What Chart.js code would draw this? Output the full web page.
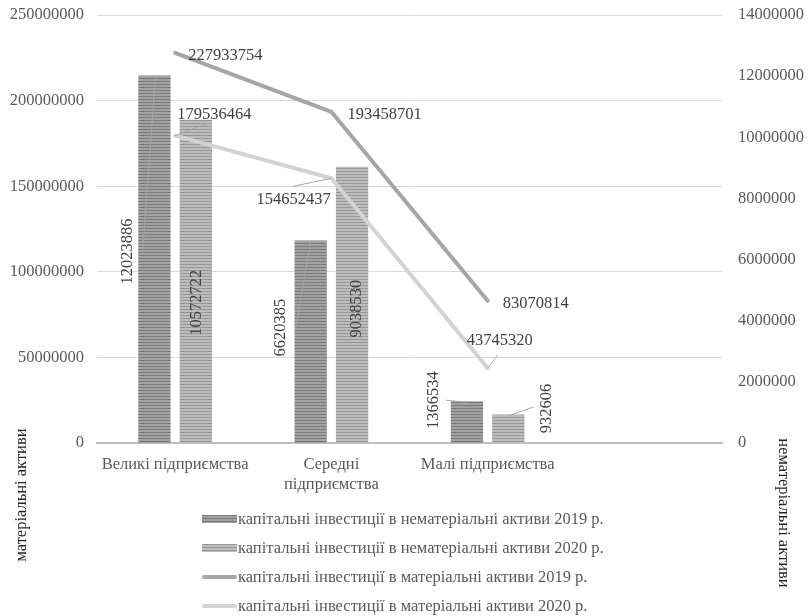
<!DOCTYPE html>
<html><head><meta charset="utf-8">
<script src="https://cdn.jsdelivr.net/npm/chart.js@4.4.1/dist/chart.umd.min.js"></script>
<style>
html,body{margin:0;padding:0;background:#fff;}
#wrap{position:relative;width:809px;height:616px;}
#legend{position:absolute;left:202px;top:504px;font-family:"Liberation Serif",serif;font-size:16.5px;color:#595959;}
.row{height:29px;display:flex;align-items:center;white-space:nowrap;}
.sw{width:35px;margin-right:1px;}
</style></head><body>
<div id="wrap"><canvas id="c"></canvas><div id="legend"></div></div>
<script>
// ---- data ----
const categories = ["Великі підприємства", ["Середні", "підприємства"], "Малі підприємства", ""];
const intangible2019 = [12023886, 6620385, 1366534];
const intangible2020 = [10572722, 9038530, 932606];
const tangible2019 = [227933754, 193458701, 83070814];
const tangible2020 = [179536464, 154652437, 43745320];
const seriesNames = [
  "капітальні інвестиції в нематеріальні активи 2019 р.",
  "капітальні інвестиції в нематеріальні активи 2020 р.",
  "капітальні інвестиції в матеріальні активи 2019 р.",
  "капітальні інвестиції в матеріальні активи 2020 р."
];
const leftAxisTitle = "матеріальні активи";
const rightAxisTitle = "нематеріальні активи";
const leftScale = {min: 0, max: 250000000, step: 50000000};
const rightScale = {min: 0, max: 14000000, step: 2000000};

// ---- styles ----
const FONT = '"Liberation Serif", "Times New Roman", serif';
const FS = 16.5;
function stripePattern(dark, light) {
  const c = document.createElement('canvas');
  c.width = 4; c.height = 3;
  const g = c.getContext('2d');
  g.fillStyle = light; g.fillRect(0, 0, 4, 3);
  g.fillStyle = dark; g.fillRect(0, 0, 4, 1);
  return g.createPattern(c, 'repeat');
}
const bar19 = stripePattern('#7a7a7a', '#a2a2a2');
const bar20 = stripePattern('#979797', '#bdbdbd');
const line19 = '#a6a6a6';
const line20 = '#d3d3d3';

// label placement relative to each drawn element: [dx, dy, rotated, leader(rel) or null]
const labelStyle = [
  [[-27, 176, true, [-12, 179, 1, 1]], [-30, 87, true, [-15, 87, 0, 1]], [-33, -1, true, [-21, -1, 0, 1]]],
  [[1, 183, true, null], [5, 142, true, null], [38, -6, true, [0, 1.5, 25, -7.5]]],
  [[13, 3, false, null], [16, 3, false, null], [15, 3, false, null]],
  [[2, -21, false, [0, 0, 35, -13]], [-75, 21, false, [-38, 8, 0, 0]], [-21, -27, false, [0, 0, 10, -13]]]
];

const labelPlugin = {
  id: 'vlabels',
  afterDatasetsDraw(chart) {
    const ctx = chart.ctx;
    ctx.save();
    chart.data.datasets.forEach((ds, i) => {
      const meta = chart.getDatasetMeta(i);
      meta.data.forEach((el, j) => {
        const st = labelStyle[i][j];
        if (!st) return;
        const [dx, dy, rot, lead] = st;
        if (lead) {
          ctx.strokeStyle = '#a6a6a6';
          ctx.lineWidth = 1;
          ctx.beginPath();
          ctx.moveTo(el.x + lead[0], el.y + lead[1]);
          ctx.lineTo(el.x + lead[2], el.y + lead[3]);
          ctx.stroke();
        }
        ctx.fillStyle = '#404040';
        ctx.font = FS + 'px ' + FONT;
        const txt = String(ds.data[j]);
        if (rot) {
          ctx.save();
          ctx.translate(el.x + dx, el.y + dy);
          ctx.rotate(-Math.PI / 2);
          ctx.textAlign = 'center';
          ctx.textBaseline = 'middle';
          ctx.fillText(txt, 0, 0);
          ctx.restore();
        } else {
          ctx.textAlign = 'left';
          ctx.textBaseline = 'middle';
          ctx.fillText(txt, el.x + dx, el.y + dy);
        }
      });
    });
    ctx.restore();
  },
  afterDraw(chart) {
    const ctx = chart.ctx;
    const area = chart.chartArea;
    ctx.save();
    ctx.fillStyle = '#262626';
    ctx.font = FS + 'px ' + FONT;
    ctx.textAlign = 'center';
    ctx.textBaseline = 'middle';
    ctx.translate(22, area.bottom + 52);
    ctx.rotate(-Math.PI / 2);
    ctx.fillText(leftAxisTitle, 0, 0);
    ctx.restore();
    ctx.save();
    ctx.fillStyle = '#262626';
    ctx.font = FS + 'px ' + FONT;
    ctx.textAlign = 'center';
    ctx.textBaseline = 'middle';
    ctx.translate(783, area.bottom + 70);
    ctx.rotate(Math.PI / 2);
    ctx.fillText(rightAxisTitle, 0, 0);
    ctx.restore();
  }
};

const tickFont = {family: FONT, size: FS};
const chart = new Chart(document.getElementById('c'), {
  type: 'bar',
  data: {
    labels: categories,
    datasets: [
      {type: 'bar', label: seriesNames[0], data: intangible2019, yAxisID: 'y1', backgroundColor: bar19, borderWidth: 0, order: 2, categoryPercentage: 0.53, barPercentage: 0.78},
      {type: 'bar', label: seriesNames[1], data: intangible2020, yAxisID: 'y1', backgroundColor: bar20, borderWidth: 0, order: 2, categoryPercentage: 0.53, barPercentage: 0.78},
      {type: 'line', label: seriesNames[2], data: tangible2019, yAxisID: 'y', borderColor: line19, borderWidth: 4, pointRadius: 0, tension: 0, order: 1, borderCapStyle: 'round', borderJoinStyle: 'round'},
      {type: 'line', label: seriesNames[3], data: tangible2020, yAxisID: 'y', borderColor: line20, borderWidth: 4, pointRadius: 0, tension: 0, order: 0, borderCapStyle: 'round', borderJoinStyle: 'round'}
    ]
  },
  options: {
    responsive: true,
    maintainAspectRatio: false,
    animation: false,
    layout: {padding: {top: 15, left: 0, right: 0, bottom: 0}},
    plugins: {legend: {display: false}, tooltip: {enabled: false}},
    scales: {
      x: {
        offset: true,
        grid: {display: false, drawTicks: false},
        border: {display: true, color: '#bfbfbf', width: 2},
        ticks: {font: tickFont, color: '#595959', padding: 12, autoSkip: false, maxRotation: 0, minRotation: 0},
        afterFit(s) { s.height = 173; s.paddingLeft = 0; s.paddingRight = 0; }
      },
      y: {
        position: 'left',
        min: leftScale.min, max: leftScale.max,
        grid: {color: '#d9d9d9', lineWidth: 1, drawTicks: false},
        border: {display: false},
        ticks: {stepSize: leftScale.step, font: tickFont, color: '#595959', padding: 13, callback: v => String(v)},
        afterFit(s) { s.width = 97; s.paddingTop = 0; s.paddingBottom = 0; }
      },
      y1: {
        position: 'right',
        min: rightScale.min, max: rightScale.max,
        grid: {display: false, drawTicks: false},
        border: {display: false},
        ticks: {stepSize: rightScale.step, font: tickFont, color: '#595959', padding: 16, callback: v => String(v)},
        afterFit(s) { s.width = 87; s.paddingTop = 0; s.paddingBottom = 0; }
      }
    }
  },
  plugins: [labelPlugin]
});

// ---- legend (HTML) ----
const legendEl = document.getElementById('legend');
const swatches = [
  'height:8px;background:repeating-linear-gradient(#7a7a7a 0 1px,#a2a2a2 1px 3px);',
  'height:8px;background:repeating-linear-gradient(#979797 0 1px,#bdbdbd 1px 3px);',
  'height:4px;border-radius:2px;background:' + line19 + ';',
  'height:4px;border-radius:2px;background:' + line20 + ';'
];
seriesNames.forEach((n, i) => {
  const r = document.createElement('div');
  r.className = 'row';
  r.innerHTML = '<div class="sw" style="' + swatches[i] + '"></div><span>' + n + '</span>';
  legendEl.appendChild(r);
});
</script>
</body></html>
